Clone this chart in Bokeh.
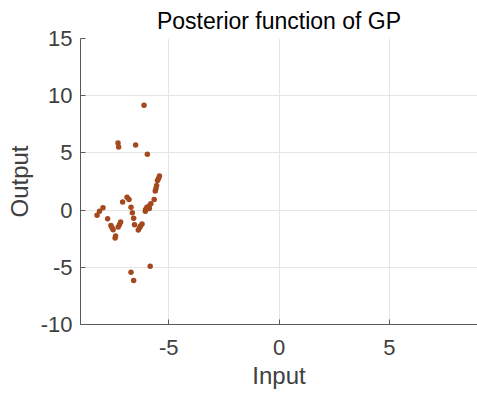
from bokeh.plotting import figure
from bokeh.models import FixedTicker, Range1d
from bokeh.embed import file_html
from bokeh.resources import INLINE

x_vals = [-6.12, -7.30, -7.27, -6.50, -5.97, -5.42, -5.46, -5.51, -5.55, -5.58,
          -5.61, -5.66, -5.81, -5.88, -5.99, -6.05, -6.06, -5.88, -6.89, -6.80,
          -7.09, -6.71, -6.65, -6.59, -6.55, -6.21, -6.28, -6.32, -6.38, -7.98,
          -8.14, -8.25, -7.77, -7.62, -7.57, -7.52, -7.18, -7.23, -7.29, -7.41,
          -7.43, -5.84, -6.71, -6.59]
y_vals = [9.17, 5.86, 5.51, 5.69, 4.88, 2.99, 2.76, 2.59, 2.15, 1.89,
          1.66, 0.93, 0.55, 0.38, 0.26, 0.06, -0.09, 0.15, 1.13, 0.93,
          0.70, 0.26, -0.23, -0.72, -1.28, -1.22, -1.39, -1.54, -1.74, 0.20,
          -0.09, -0.44, -0.76, -1.34, -1.54, -1.71, -1.05, -1.25, -1.48, -2.26,
          -2.44, -4.91, -5.43, -6.16]
x_ticks = [-5, 0, 5]
y_ticks = [-10, -5, 0, 5, 10, 15]

FONT = "Liberation Sans"
TXT = "#404040"

p = figure(width=477, height=394, output_backend="svg", toolbar_location=None,
           x_range=Range1d(-9, 9), y_range=Range1d(-10, 15),
           title="Posterior function of GP",
           min_border_left=80, min_border_right=0, min_border_top=37, min_border_bottom=70)
p.title.align = "center"
p.title.text_font = FONT
p.title.text_font_size = "23px"
p.title.text_font_style = "normal"
p.title.text_color = "#000000"
p.title.standoff = 10

p.outline_line_color = None
p.background_fill_color = "white"

for ax in (p.xaxis[0], p.yaxis[0]):
    ax.axis_line_color = "#5a5a5a"
    ax.major_tick_line_color = "#5a5a5a"
    ax.major_tick_in = 5
    ax.major_tick_out = 0
    ax.minor_tick_line_color = None
    ax.major_label_text_font = FONT
    ax.major_label_text_font_size = "22px"
    ax.major_label_text_color = TXT
    ax.axis_label_text_font = FONT
    ax.axis_label_text_font_size = "24px"
    ax.axis_label_text_font_style = "normal"
    ax.axis_label_text_color = TXT

p.xaxis.ticker = FixedTicker(ticks=x_ticks)
p.yaxis.ticker = FixedTicker(ticks=y_ticks)
p.xaxis.major_label_overrides = {t: str(t) for t in x_ticks}
p.yaxis.major_label_overrides = {t: str(t) for t in y_ticks}
p.xaxis.axis_label = "Input"
p.yaxis.axis_label = "Output"
p.xaxis.major_label_standoff = 15
p.yaxis.major_label_standoff = 8
p.xaxis.axis_label_standoff = 4
p.yaxis.axis_label_standoff = 5

p.xgrid.ticker = FixedTicker(ticks=x_ticks)
p.ygrid.ticker = FixedTicker(ticks=y_ticks)
p.grid.grid_line_color = "#e5e5e5"

p.scatter(x_vals, y_vals, size=5.5, fill_color="#A4491E", line_color=None)

open("out.html", "w").write(file_html(p, INLINE))
